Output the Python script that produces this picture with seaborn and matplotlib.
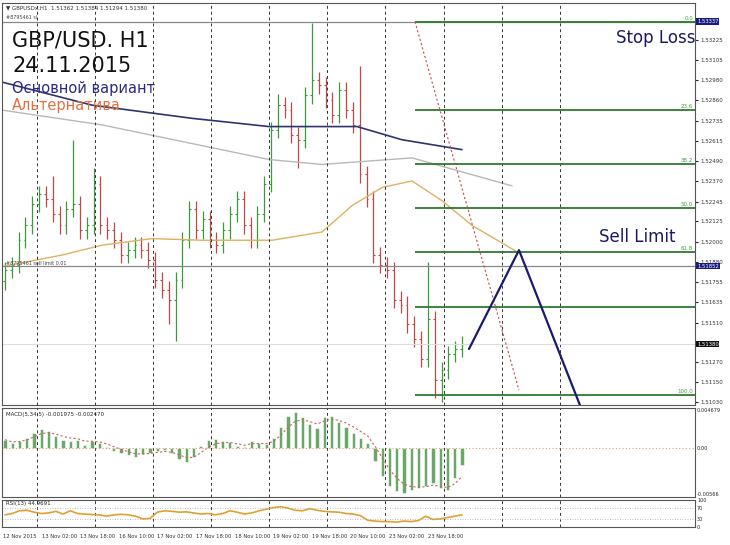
import numpy as np
import pandas as pd
import matplotlib
matplotlib.use("Agg")
import matplotlib.pyplot as plt
import seaborn as sns

# --- data ---
closes = [1.5183, 1.5186, 1.5201, 1.5210, 1.5223, 1.5229, 1.5226, 1.5217,
          1.5210, 1.5220, 1.5223, 1.5207, 1.5210, 1.5235, 1.5210, 1.5207,
          1.5201, 1.5192, 1.5195, 1.5198, 1.5195, 1.5189, 1.5177, 1.5171,
          1.5165, 1.5177, 1.5201, 1.5220, 1.5207, 1.5214, 1.5201, 1.5198,
          1.5207, 1.5217, 1.5226, 1.5210, 1.5201, 1.5217, 1.5235, 1.5268,
          1.5283, 1.5280, 1.5265, 1.5262, 1.5289, 1.5298, 1.5295, 1.5286,
          1.5277, 1.5292, 1.5280, 1.5271, 1.5241, 1.5226, 1.5192, 1.5186,
          1.5183, 1.5165, 1.5162, 1.5150, 1.5141, 1.5129, 1.5153, 1.5116,
          1.5122, 1.5132, 1.5135, 1.5138]
first_open = 1.5176
spike_high = {7: 1.5240, 10: 1.5262, 13: 1.5245, 40: 1.5290, 45: 1.5333, 52: 1.5307, 62: 1.5188}
spike_low = {24: 1.5150, 25: 1.5140, 43: 1.5245, 63: 1.5105, 64: 1.5103}

ma_slow_x = [0, 90, 190, 267, 355, 400, 460]
ma_slow_y = [1.5297, 1.5283, 1.5275, 1.5270, 1.5270, 1.5262, 1.5256]
ma_gray_x = [0, 100, 267, 320, 410, 510]
ma_gray_y = [1.5280, 1.5271, 1.5250, 1.5247, 1.5251, 1.5234]
ma_fast_x = [0, 60, 100, 150, 200, 270, 320, 350, 380, 410, 440, 470, 515]
ma_fast_y = [1.5185, 1.5192, 1.5198, 1.5202, 1.5201, 1.5201, 1.5206, 1.5222,
             1.5233, 1.5237, 1.5225, 1.5210, 1.5194]

fib_levels = [0.0, 23.6, 38.2, 50.0, 61.8, 76.4, 100.0]
fib_top = 1.53337
fib_bottom = 1.5107
sell_limit = 1.51852
last_price = 1.51380
plan_x = [467, 517, 585]
plan_y = [1.5135, 1.5195, 1.5090]

macd = [1.0, 0.6, 0.8, 1.2, 1.8, 2.2, 2.0, 1.4, 1.0, 0.9, 1.0,
        0.4, 0.8, 0.6, 0.2, -0.3, -0.6,
        -0.8, -1.0, -0.7, -0.5, -0.3, -0.2,
        -0.6, -1.2, -1.6, -1.0, 0.3,
        1.0, 1.1, 0.9, 0.7, 0.3, 0.1,
        0.8, 0.6, 0.5, 1.2, 2.5,
        3.8, 4.2, 3.6, 2.8, 2.4, 3.6, 3.8,
        3.0, 2.5, 1.8, 1.2, 0.6,
        -1.5, -3.2, -4.4, -5.0, -5.2, -4.9, -4.6,
        -4.4, -4.0, -4.6, -4.8, -3.5, -2.0]
rsi = [45, 50, 60, 62, 55, 50, 52, 58,
       48, 60, 50, 48, 46, 45, 40, 45,
       47, 45, 40, 30, 32, 55, 60, 58,
       55, 56, 52, 48, 50, 45, 50, 60,
       55, 48, 52, 60, 66, 72, 75, 70,
       62, 60, 68, 62, 58, 56, 55, 50,
       48, 42, 25, 22, 20, 20, 18, 22,
       20, 24, 40, 28, 30, 35, 40, 45]

date_labels = ["12 Nov 2015", "13 Nov 02:00", "13 Nov 18:00", "16 Nov 10:00", "17 Nov 02:00",
               "17 Nov 18:00", "18 Nov 10:00", "19 Nov 02:00", "19 Nov 18:00", "20 Nov 10:00",
               "23 Nov 02:00", "23 Nov 18:00"]
price_ticks = [1.53225, 1.53105, 1.52980, 1.52860, 1.52735, 1.52615, 1.52490, 1.52370,
               1.52245, 1.52125, 1.52000, 1.51880, 1.51755, 1.51635, 1.51510, 1.51270,
               1.51150, 1.51030]

# --- figure ---
sns.set_style("white")
plt.rcParams['font.family'] = ['DejaVu Sans']
W, H = 730, 545
fig = plt.figure(figsize=(7.3, 5.45), dpi=100)
fig.patch.set_facecolor("white")

def box(top, bottom):
    return [2 / W, 1 - bottom / H, 693 / W, (bottom - top) / H]

ax = fig.add_axes(box(3, 405))
ax_m = fig.add_axes(box(408, 497))
ax_r = fig.add_axes(box(500, 527))
XMAX = 693
dashed_x = [35, 93, 151, 209, 267, 325, 383, 442, 500, 558]

n = len(closes)
bx = np.linspace(3, 460, n)
opens = [first_open] + closes[:-1]
df = pd.DataFrame({"x": bx, "open": opens, "close": closes})
df["high"] = df[["open", "close"]].max(axis=1) + 0.0005
df["low"] = df[["open", "close"]].min(axis=1) - 0.0005
for i, v in spike_high.items():
    df.loc[i, "high"] = v
for i, v in spike_low.items():
    df.loc[i, "low"] = v
up = "#3c9a3c"
dn = "#c04848"
col = np.where(df["close"] >= df["open"], up, dn)
ax.vlines(df["x"], df["low"], df["high"], colors=col, lw=0.9)
ax.hlines(df["open"], df["x"] - 1.8, df["x"], colors=col, lw=0.8)
ax.hlines(df["close"], df["x"], df["x"] + 1.8, colors=col, lw=0.8)

sns.lineplot(x=ma_slow_x, y=ma_slow_y, ax=ax, color="#2e3470", lw=1.2)
sns.lineplot(x=ma_gray_x, y=ma_gray_y, ax=ax, color="#b8b8b8", lw=1.0)
sns.lineplot(x=ma_fast_x, y=ma_fast_y, ax=ax, color="#e0b060", lw=1.0)

ylo, yhi = 1.5101, 1.5345
ax.set_ylim(ylo, yhi)
for a in (ax, ax_m, ax_r):
    a.set_xlim(0, XMAX)
    for xd in dashed_x:
        a.axvline(xd, color="#333333", lw=0.7, ls=(0, (3, 3)))
    for s in a.spines.values():
        s.set_color("#555555")
        s.set_linewidth(0.8)
    a.set_xticks([])

# horizontal levels
ax.axhline(fib_top, color="#888888", lw=0.9)
ax.axhline(sell_limit, color="#888888", lw=0.9)
ax.axhline(last_price, color="#dddddd", lw=0.8)
for lv in fib_levels:
    p = fib_top - lv / 100 * (fib_top - fib_bottom)
    ax.hlines(p, 413, XMAX, color="#2f7a2f", lw=1.3)
    if lv != 76.4:
        ax.text(XMAX - 2, p + 0.00006, f"{lv:.1f}", color="#4a9a4a", fontsize=4, ha="right", va="bottom")
ax.plot([413, 517], [fib_top, 1.5110], color="#c05050", lw=0.8, ls=(0, (2, 2)))
ax.plot(plan_x, plan_y, color="#1a1a70", lw=1.6)

# texts
ax.text(0.006, 0.995, "▼ GBPUSDx,H1  1.51362 1.51384 1.51294 1.51380", transform=ax.transAxes,
        fontsize=4, va="top", color="#333333")
ax.text(4, fib_top + 0.0001, "#8795461 sl", fontsize=3.5, color="#444444", va="bottom")
ax.text(4, sell_limit + 0.00004, "#8795461 sell limit 0.01", fontsize=3.5, color="#444444", va="bottom")
ax.text(10, 1.5322, "GBP/USD. H1", fontsize=15, va="center", color="#111111")
ax.text(10, 1.5307, "24.11.2015", fontsize=15, va="center", color="#111111")
ax.text(10, 1.5293, "Основной вариант", fontsize=10.5, va="center", color="#2a2a80")
ax.text(10, 1.5283, "Альтернатива", fontsize=10.5, va="center", color="#e07040")
ax.text(614, 1.5324, "Stop Loss", fontsize=12, va="center", color="#1a1a60")
ax.text(597, 1.5203, "Sell Limit", fontsize=12, va="center", color="#1a1a60")

ax.yaxis.tick_right()
ax.set_yticks(price_ticks)
ax.set_yticklabels([f"{t:.5f}" for t in price_ticks], fontsize=4, color="#333333")
ax.tick_params(axis="y", length=2, pad=1.5)
for p, fc in [(fib_top, "#1a1a80"), (sell_limit, "#1a1a80"), (last_price, "#111111")]:
    ax.text(XMAX + 2, p, f"{p:.5f}", fontsize=3.8, color="white", va="center", ha="left",
            bbox=dict(boxstyle="square,pad=0.12", fc=fc, ec="none"), clip_on=False)

# MACD
mx = np.linspace(3, 460, len(macd))
macd_v = np.array(macd) / 1000
signal = pd.Series(macd_v).ewm(span=4).mean()
ax_m.bar(mx, macd_v, width=3.2, color="#6aa86a", edgecolor="white", linewidth=0.4)
ax_m.plot(mx, signal, color="#d06060", lw=0.8, ls=(0, (2, 2)))
ax_m.axhline(0, color="#e0a060", lw=0.8, ls=(0, (1, 2)))
ax_m.set_ylim(-0.00566, 0.004679)
ax_m.yaxis.tick_right()
ax_m.set_yticks([0.004679, 0, -0.00566])
ax_m.set_yticklabels(["0.004679", "0.00", "-0.00566"], fontsize=3.6)
ax_m.tick_params(axis="y", length=0, pad=1.5)
ax_m.get_yticklabels()[0].set_va("top")
ax_m.get_yticklabels()[2].set_va("bottom")
ax_m.text(0.006, 0.96, "MACD(5,34,5) -0.001975 -0.002470", transform=ax_m.transAxes,
          fontsize=4, va="top")

# RSI
rx = np.linspace(3, 460, len(rsi))
sns.lineplot(x=rx, y=rsi, ax=ax_r, color="#e0a030", lw=1.2)
ax_r.axhline(70, color="#aaaaaa", lw=0.6, ls=(0, (1, 2)))
ax_r.axhline(30, color="#aaaaaa", lw=0.6, ls=(0, (1, 2)))
ax_r.set_ylim(0, 100)
ax_r.yaxis.tick_right()
ax_r.set_yticks([100, 70, 30, 0])
ax_r.set_yticklabels(["100", "70", "30", "0"], fontsize=3.5)
ax_r.tick_params(axis="y", length=0, pad=1.5)
ax_r.text(0.006, 0.95, "RSI(13) 44.9691", transform=ax_r.transAxes, fontsize=4, va="top")

for k, lab in enumerate(date_labels):
    ax_r.text(1 + 38.6 * k, -0.25, lab, transform=ax_r.get_xaxis_transform(),
              fontsize=3.8, ha="left", va="top", color="#333333")

fig.savefig("out.png", dpi=100, facecolor="white")
